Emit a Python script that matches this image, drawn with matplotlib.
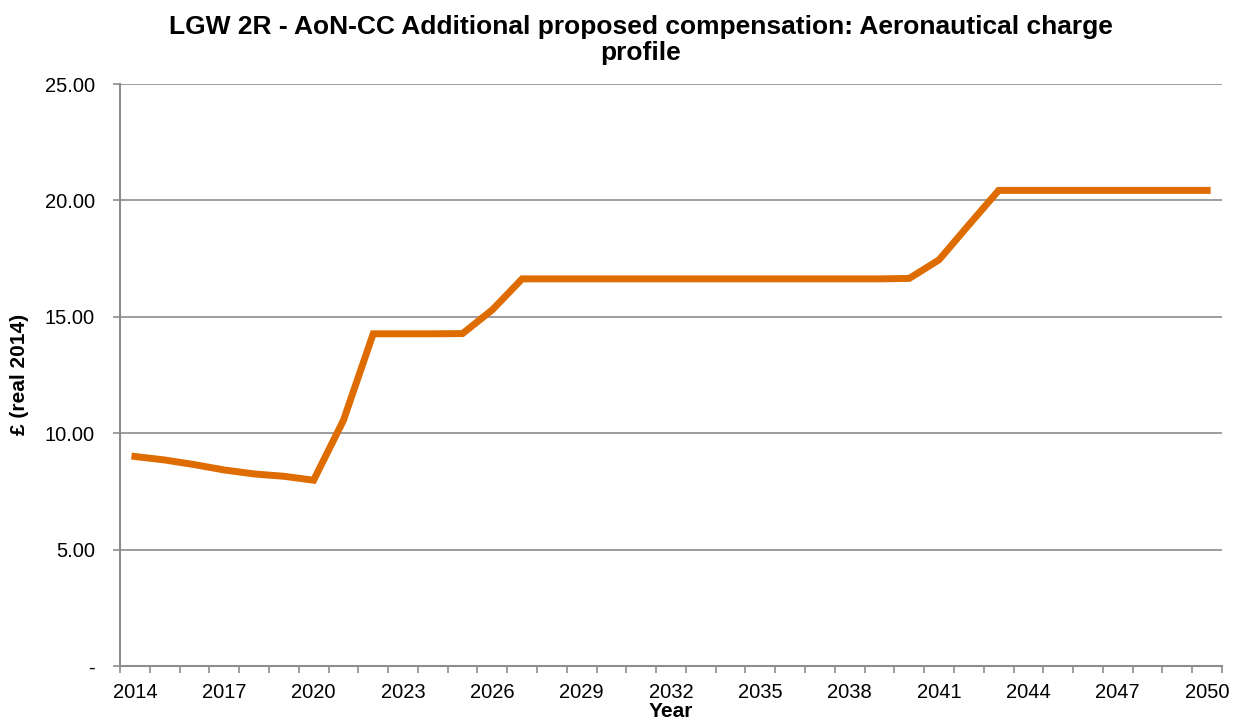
import matplotlib
matplotlib.use('Agg')
import matplotlib.pyplot as plt

plt.rcParams['font.family'] = ['Liberation Sans', 'DejaVu Sans']

# Data
years = list(range(2014, 2051))
charge = [9.00, 8.85, 8.65, 8.42, 8.25, 8.15, 7.98,
          10.55, 14.27, 14.27, 14.27, 14.28, 15.30, 16.63,
          16.63, 16.63, 16.63, 16.63, 16.63, 16.63, 16.63,
          16.63, 16.63, 16.63, 16.63, 16.63, 16.65,
          17.45, 18.95, 20.43, 20.43, 20.43, 20.43, 20.43,
          20.43, 20.43, 20.43]
y_ticks = [0, 5, 10, 15, 20, 25]
y_labels = ['-', '5.00', '10.00', '15.00', '20.00', '25.00']

grey = '#8c8c8c'

fig = plt.figure(figsize=(12.4, 7.25), dpi=100)
ax = fig.add_axes([0.0968, 0.0814, 0.8887, 0.8027])

x = list(range(len(years)))
ax.plot(x, charge, color='#DF6C00', linewidth=5, solid_joinstyle='miter', zorder=3)

ax.set_xlim(-0.5, len(years) - 0.5)
ax.set_ylim(0, 25)

# category axis: tick marks between categories, labels every 3 years
ax.set_xticks([i - 0.5 for i in range(len(years) + 1)], minor=True)
ax.set_xticks(x[::3])
ax.set_xticklabels([str(y) for y in years[::3]], fontsize=14.5)
ax.tick_params(axis='x', which='major', length=0, pad=12.5)
ax.tick_params(axis='x', which='minor', length=5, color=grey, width=1.2)

ax.set_yticks(y_ticks)
ax.set_yticklabels(y_labels, fontsize=14.5)
ax.tick_params(axis='y', length=5, color=grey, width=1.2, pad=13)
ax.yaxis.grid(True, color=grey, linewidth=1.2)
ax.set_axisbelow(True)

for s in ['top', 'right']:
    ax.spines[s].set_visible(False)
for s in ['left', 'bottom']:
    ax.spines[s].set_color(grey)
    ax.spines[s].set_linewidth(1.5)

fig.text(0.517, 0.945, 'LGW 2R - AoN-CC Additional proposed compensation: Aeronautical charge\nprofile',
         ha='center', va='center', fontsize=19, fontweight='bold', linespacing=1.12)
fig.text(0.016, 0.483, '£ (real 2014)', rotation=90, ha='center', va='center',
         fontsize=15, fontweight='bold')
fig.text(0.541, 0.018, 'Year', ha='center', va='center', fontsize=15, fontweight='bold')

fig.savefig('out.png', dpi=100)
